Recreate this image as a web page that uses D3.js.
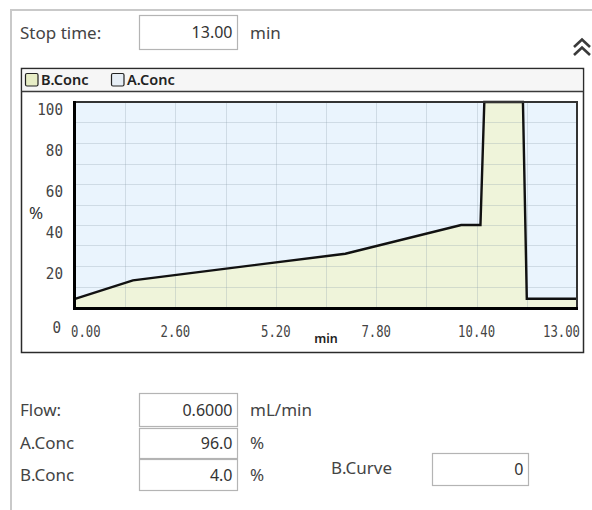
<!DOCTYPE html>
<html>
<head>
<meta charset="utf-8">
<script src="https://cdn.jsdelivr.net/npm/d3@7"></script>
<style>
  html, body { margin: 0; padding: 0; background: #fff; }
  svg { display: block; }
</style>
</head>
<body>
<div id="chart"></div>
<script>
// gradient program (min, %B)
const times = [0, 1.5, 7.0, 10.0, 10.5, 10.6, 11.6, 11.7, 13.0];
const bConc = [4, 13, 26, 40, 40, 100, 100, 4, 4];
const xTicks = [0, 2.6, 5.2, 7.8, 10.4, 13.0];
const yTicks = [0, 20, 40, 60, 80, 100];
const legendNames = ["B.Conc", "A.Conc"];

// form fields
const stopTime = "13.00";
const fieldLabels = ["Flow:", "A.Conc", "B.Conc"];
const fieldValues = ["0.6000", "96.0", "4.0"];
const fieldUnits = ["mL/min", "%", "%"];
const curveValue = "0";

const W = 592, H = 510;
const uiFont = "'Noto Sans', 'Open Sans', sans-serif";
const numFont = "'DejaVu Sans Mono', monospace";

const svg = d3.select("#chart").append("svg")
  .attr("width", W).attr("height", H);

// outer panel edges
svg.append("path")
  .attr("d", `M11,${H} V10 H${W}`)
  .attr("fill", "none").attr("stroke", "#c9c9c9").attr("stroke-width", 2);

function inputBox(x, y, w, h, val) {
  svg.append("rect").attr("x", x).attr("y", y).attr("width", w).attr("height", h)
    .attr("fill", "#fff").attr("stroke", "#b4b4b4").attr("stroke-width", 1.2);
  svg.append("text").attr("x", x + w - 5).attr("y", y + h / 2 + 5.5)
    .attr("text-anchor", "end").attr("font-family", uiFont).attr("font-size", 16)
    .attr("fill", "#333").text(val);
}
function label(x, y, t) {
  svg.append("text").attr("x", x).attr("y", y).attr("font-family", uiFont)
    .attr("font-size", 17).attr("fill", "#444").text(t);
}

// stop time row
label(20, 39, "Stop time:");
inputBox(139.5, 15.5, 98, 34, stopTime);
label(250, 39, "min");

// collapse chevrons
svg.append("path")
  .attr("d", "M574,47 L582,39.5 L590,47 M574,55 L582,47.5 L590,55")
  .attr("fill", "none").attr("stroke", "#3a3a3a").attr("stroke-width", 2.6);

// chart frame
svg.append("rect").attr("x", 21.5).attr("y", 68.5).attr("width", 562).attr("height", 284)
  .attr("fill", "#fff").attr("stroke", "#2b2b2b").attr("stroke-width", 1.5);
svg.append("rect").attr("x", 22.5).attr("y", 69.5).attr("width", 560).attr("height", 22)
  .attr("fill", "#f6f6f6");
svg.append("line").attr("x1", 21.5).attr("x2", 583.5).attr("y1", 91.5).attr("y2", 91.5)
  .attr("stroke", "#3a3a3a").attr("stroke-width", 1.5);

// legend
const legendFill = ["#e7edc6", "#e6eef6"];
const legendX = [25, 111];
const lg = svg.append("g").selectAll("g").data(legendNames).join("g")
  .attr("transform", (d, i) => `translate(${legendX[i]},73)`);
lg.append("rect").attr("x", 0.5).attr("y", 0.5).attr("width", 12.5).attr("height", 12.5)
  .attr("rx", 1.5).attr("fill", (d, i) => legendFill[i])
  .attr("stroke", "#222").attr("stroke-width", 1.2);
lg.append("text").attr("x", 16).attr("y", 12).attr("font-family", uiFont)
  .attr("font-size", 14.5).attr("font-weight", 600).attr("fill", "#222").text(d => d);

// plot
const x = d3.scaleLinear().domain([0, 13]).range([75, 577]);
const y = d3.scaleLinear().domain([0, 100]).range([307, 102]);

svg.append("rect").attr("x", x(0)).attr("y", y(100))
  .attr("width", x(13) - x(0)).attr("height", y(0) - y(100)).attr("fill", "#eaf4fd");

const pts = times.map((t, i) => [t, bConc[i]]);
svg.append("path").datum(pts)
  .attr("d", d3.area().x(d => x(d[0])).y0(y(0)).y1(d => y(d[1])))
  .attr("fill", "#eff4da");

// grid
const g = svg.append("g").attr("stroke", "#8a9aaa").attr("stroke-opacity", 0.28).attr("stroke-width", 1);
g.selectAll("line.h").data(d3.range(10, 100, 10)).join("line")
  .attr("x1", x(0)).attr("x2", x(13)).attr("y1", d => Math.round(y(d)) + 0.5).attr("y2", d => Math.round(y(d)) + 0.5);
g.selectAll("line.v").data(d3.range(1, 10).map(i => i * 1.3)).join("line")
  .attr("y1", y(100)).attr("y2", y(0)).attr("x1", d => Math.round(x(d)) + 0.5).attr("x2", d => Math.round(x(d)) + 0.5);

svg.append("path").datum(pts)
  .attr("d", d3.line().x(d => x(d[0])).y(d => y(d[1])))
  .attr("fill", "none").attr("stroke", "#111").attr("stroke-width", 2.4);

// plot border
svg.append("path")
  .attr("d", `M${x(0)},${y(100)} H${x(13)} V${y(0)}`)
  .attr("fill", "none").attr("stroke", "#333").attr("stroke-width", 2);
svg.append("path")
  .attr("d", `M${x(0) - 0.5},${y(100) - 1} V${y(0) + 1.5} H${x(13) + 1}`)
  .attr("fill", "none").attr("stroke", "#000").attr("stroke-width", 3);

// axes labels (narrow mono digits)
svg.append("g").selectAll("text").data(yTicks.filter(v => v > 0)).join("text")
  .attr("transform", d => `translate(63,${y(d) + 13}) scale(0.92,1)`).attr("text-anchor", "end")
  .attr("font-family", numFont).attr("font-size", 15.5).attr("fill", "#444").text(d => d);
svg.append("text").attr("transform", "translate(61,333) scale(0.92,1)").attr("text-anchor", "end")
  .attr("font-family", numFont).attr("font-size", 15.5).attr("fill", "#444").text(yTicks[0]);

svg.append("g").selectAll("text").data(xTicks).join("text")
  .attr("transform", (d, i) => {
    const px = i === 0 ? x(d) - 4 : i === xTicks.length - 1 ? x(d) + 3 : x(d);
    return `translate(${px},337) scale(0.82,1)`;
  })
  .attr("text-anchor", (d, i) => i === 0 ? "start" : i === xTicks.length - 1 ? "end" : "middle")
  .attr("font-family", numFont).attr("font-size", 15).attr("fill", "#444")
  .text(d => d.toFixed(2));

svg.append("text").attr("x", (x(0) + x(13)) / 2).attr("y", 343).attr("text-anchor", "middle")
  .attr("font-family", uiFont).attr("font-size", 12.5).attr("font-weight", 600).attr("fill", "#222").text("min");
svg.append("text").attr("x", 36).attr("y", 219).attr("text-anchor", "middle")
  .attr("font-family", uiFont).attr("font-size", 17).attr("fill", "#333").text("%");

// lower form
const rowY = [393, 428, 459];
const rowH = [33, 30, 31];
fieldLabels.forEach((t, i) => {
  label(20, rowY[i] + rowH[i] / 2 + 6, t);
  inputBox(139.5, rowY[i] + 0.5, 98, rowH[i], fieldValues[i]);
  label(250, rowY[i] + rowH[i] / 2 + 6, fieldUnits[i]);
});
label(331, 474, "B.Curve");
inputBox(432.5, 453.5, 96, 32, curveValue);
</script>
</body>
</html>
